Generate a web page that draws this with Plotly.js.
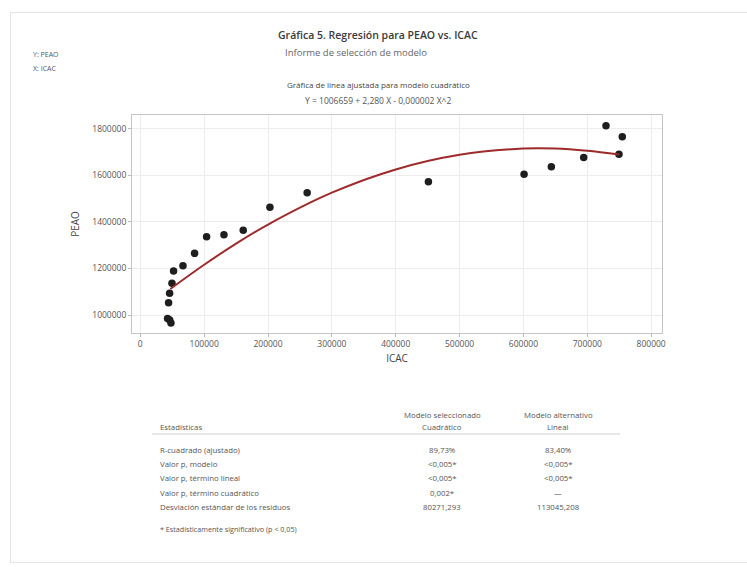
<!DOCTYPE html>
<html>
<head>
<meta charset="utf-8">
<script src="https://cdn.plot.ly/plotly-3.0.1.min.js"></script>
<style>
  body { margin:0; background:#fff; }
  #wrap { position:relative; width:747px; height:567px; overflow:hidden; }
  #frame { position:absolute; left:10px; top:12px; width:760px; height:549px; border:1px solid #e4e4e4; pointer-events:none; }
</style>
</head>
<body>
<div id="wrap"><div id="chart"></div><div id="frame"></div></div>
<script>
// ---- data ----
const icac = [42700, 46000, 48000, 44300, 45900, 49600, 52100, 66800, 85000, 103800, 131000, 161200, 203000, 261300, 451200, 601000, 643700, 694400, 729300, 754800, 749600];
const peao = [985000, 978000, 966000, 1053000, 1093000, 1136000, 1189000, 1212000, 1265000, 1337000, 1345000, 1364000, 1463000, 1526000, 1573000, 1605000, 1638000, 1677000, 1814000, 1767000, 1691000];
const fitX = [47000, 100000, 150000, 200000, 300000, 400000, 500000, 600000, 650000, 700000, 750000];
const fitY = [1112000, 1216000, 1307000, 1389000, 1526000, 1626000, 1689000, 1716000, 1716000, 1706000, 1690000];
const xTicks = [0, 100000, 200000, 300000, 400000, 500000, 600000, 700000, 800000];
const yTicks = [1000000, 1200000, 1400000, 1600000, 1800000];
const statLabels = ["R-cuadrado (ajustado)", "Valor p, modelo", "Valor p, término lineal", "Valor p, término cuadrático", "Desviación estándar de los residuos"];
const quadVals = ["89,73%", "<0,005*", "<0,005*", "0,002*", "80271,293"];
const linVals = ["83,40%", "<0,005*", "<0,005*", "—", "113045,208"];

// ---- layout helpers (pixel -> paper) ----
const L = 132, R = 662, T = 115, B = 333;
const px = x => (x - L) / (R - L);
const py = y => (B - y) / (B - T);
const FONT = "Open Sans, Noto Sans, sans-serif";

const ann = [];
function txt(text, x, y, size, color, xanchor, weight) {
  ann.push({text: text, xref:'paper', yref:'paper', x: px(x), y: py(y), xanchor: xanchor || 'center', yanchor:'middle',
            showarrow:false, font:{family:FONT, size:size, color:color, weight: weight || 400}});
}
txt("Gráfica 5. Regresión para PEAO vs. ICAC", 378, 35, 10.5, "#3a3a3a", 'center', 600);
txt("Informe de selección de modelo", 356, 52, 9.5, "#666");
txt("Y: PEAO", 31, 54, 7, "#555", 'left');
txt("X: ICAC", 31, 68, 7, "#555", 'left');
txt("Gráfica de línea ajustada para modelo cuadrático", 378, 85, 8, "#444");
txt("Y = 1006659 + 2,280 X - 0,000002 X^2", 378, 101, 8.5, "#555");

// table
txt("Modelo seleccionado", 442, 415, 7.8, "#555");
txt("Cuadrático", 442, 427, 7.8, "#555");
txt("Modelo alternativo", 558, 415, 7.8, "#555");
txt("Lineal", 558, 427, 7.8, "#555");
txt("Estadísticas", 158, 427, 7.8, "#555", 'left');
const rowY = [450, 464, 478, 493, 507];
for (let i = 0; i < statLabels.length; i++) {
  txt(statLabels[i], 158, rowY[i], 7.8, "#555", 'left');
  txt(quadVals[i], 442, rowY[i], 7.8, "#555");
  txt(linVals[i], 558, rowY[i], 7.8, "#555");
}
txt("* Estadísticamente significativo (p < 0,05)", 158, 529, 7.2, "#555", 'left');

const shapes = [
  {type:'line', xref:'paper', yref:'paper', x0:px(152), x1:px(620), y0:py(434), y1:py(434), line:{color:'#cfcfcf', width:1}}
];

const traces = [
  {x: icac, y: peao, type:'scatter', mode:'markers', marker:{color:'#1e1e1e', size:7.5}, name:'Datos', hoverinfo:'x+y'},
  {x: fitX, y: fitY, type:'scatter', mode:'lines', line:{color:'#9e2a2b', width:2, shape:'spline'}, name:'Ajuste'}
];

const layout = {
  width:747, height:567,
  margin:{l:L, r:747-R, t:T, b:567-B, pad:0},
  paper_bgcolor:'#fff', plot_bgcolor:'#fff',
  showlegend:false,
  font:{family:FONT, color:'#555'},
  xaxis:{range:[-13000, 817000], tickvals:xTicks, tickformat:'d', showgrid:true, gridcolor:'#ececec',
         showline:true, mirror:true, linecolor:'#c4c4c4', ticks:'outside', ticklen:3, tickcolor:'#bbb',
         tickfont:{size:8.5, color:'#555'}, zeroline:false,
         title:{text:'ICAC', font:{size:10, color:'#444'}, standoff:6}},
  yaxis:{range:[922600, 1860000], tickvals:yTicks, tickformat:'d', showgrid:true, gridcolor:'#ececec',
         showline:true, mirror:true, linecolor:'#c4c4c4', ticks:'outside', ticklen:3, tickcolor:'#bbb',
         tickfont:{size:8.5, color:'#555'}, zeroline:false,
         title:{text:'PEAO', font:{size:10, color:'#444'}, standoff:10}},
  annotations: ann,
  shapes: shapes
};
Plotly.newPlot('chart', traces, layout, {displayModeBar:false, staticPlot:true});
</script>
</body>
</html>
